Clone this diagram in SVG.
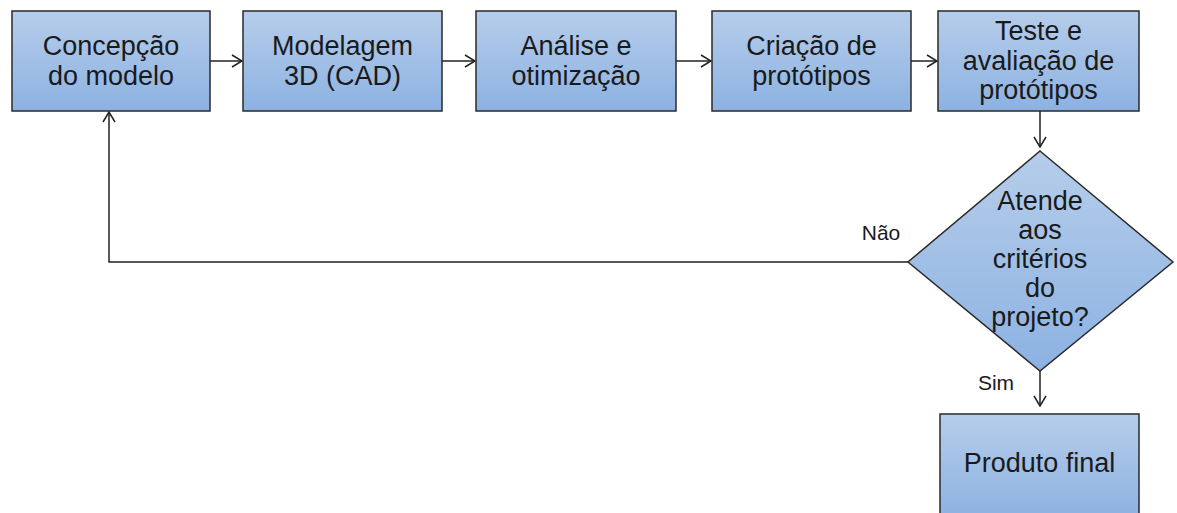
<svg xmlns="http://www.w3.org/2000/svg" width="1177" height="513" viewBox="0 0 1177 513">
<defs>
<linearGradient id="g" x1="0" y1="0" x2="0" y2="1">
<stop offset="0" stop-color="#b6cdea"/>
<stop offset="1" stop-color="#8cb2e2"/>
</linearGradient>
<marker id="arr" viewBox="0 0 12 14" refX="11" refY="7" markerWidth="12" markerHeight="14" markerUnits="userSpaceOnUse" orient="auto">
<path d="M1,1 L11,7 L1,13" fill="none" stroke="#222" stroke-width="1.5"/>
</marker>
<style>
.n{fill:url(#g);stroke:#2a2a2a;stroke-width:1.5}
.t{font-family:"Liberation Sans",Arial,sans-serif;font-size:27px;fill:#1a1a1a;text-anchor:middle}
.l{font-family:"Liberation Sans",Arial,sans-serif;font-size:21px;fill:#1a1a1a;text-anchor:middle}
.c{fill:none;stroke:#222;stroke-width:1.5}
</style>
</defs>
<rect width="1177" height="513" fill="#fff"/>
<g id="connectors">
<line class="c" x1="210" y1="61" x2="242" y2="61" marker-end="url(#arr)"/>
<line class="c" x1="442" y1="61" x2="475" y2="61" marker-end="url(#arr)"/>
<line class="c" x1="676" y1="61" x2="711" y2="61" marker-end="url(#arr)"/>
<line class="c" x1="911" y1="61" x2="937" y2="61" marker-end="url(#arr)"/>
<line class="c" x1="1040" y1="111" x2="1040" y2="147" marker-end="url(#arr)"/>
<line class="c" x1="1040" y1="371" x2="1040" y2="406" marker-end="url(#arr)"/>
<polyline class="c" points="908,262 109,262 109,112" marker-end="url(#arr)"/>
<text class="l" x="881" y="240">Não</text>
<text class="l" x="996" y="390">Sim</text>
</g>
<g id="n1">
<rect class="n" x="12" y="11" width="198" height="100"/>
<text class="t" x="111" y="55">Concepção</text>
<text class="t" x="111" y="85">do modelo</text>
</g>
<g id="n2">
<rect class="n" x="243" y="11" width="199" height="100"/>
<text class="t" x="342.5" y="55">Modelagem</text>
<text class="t" x="342.5" y="85">3D (CAD)</text>
</g>
<g id="n3">
<rect class="n" x="476" y="11" width="200" height="100"/>
<text class="t" x="576" y="55">Análise e</text>
<text class="t" x="576" y="85">otimização</text>
</g>
<g id="n4">
<rect class="n" x="712" y="11" width="199" height="100"/>
<text class="t" x="811.5" y="55">Criação de</text>
<text class="t" x="811.5" y="85">protótipos</text>
</g>
<g id="n5">
<rect class="n" x="938" y="11" width="201" height="100"/>
<text class="t" x="1038.5" y="40">Teste e</text>
<text class="t" x="1038.5" y="69.5">avaliação de</text>
<text class="t" x="1038.5" y="99">protótipos</text>
</g>
<g id="d1">
<polygon class="n" points="1040,151 1173,262 1040,371 908,262"/>
<text class="t" x="1040" y="210">Atende</text>
<text class="t" x="1040" y="239">aos</text>
<text class="t" x="1040" y="268">critérios</text>
<text class="t" x="1040" y="297">do</text>
<text class="t" x="1040" y="326">projeto?</text>
</g>
<g id="n6">
<rect class="n" x="940" y="414" width="199" height="104"/>
<text class="t" x="1039.5" y="472">Produto final</text>
</g>
</svg>
